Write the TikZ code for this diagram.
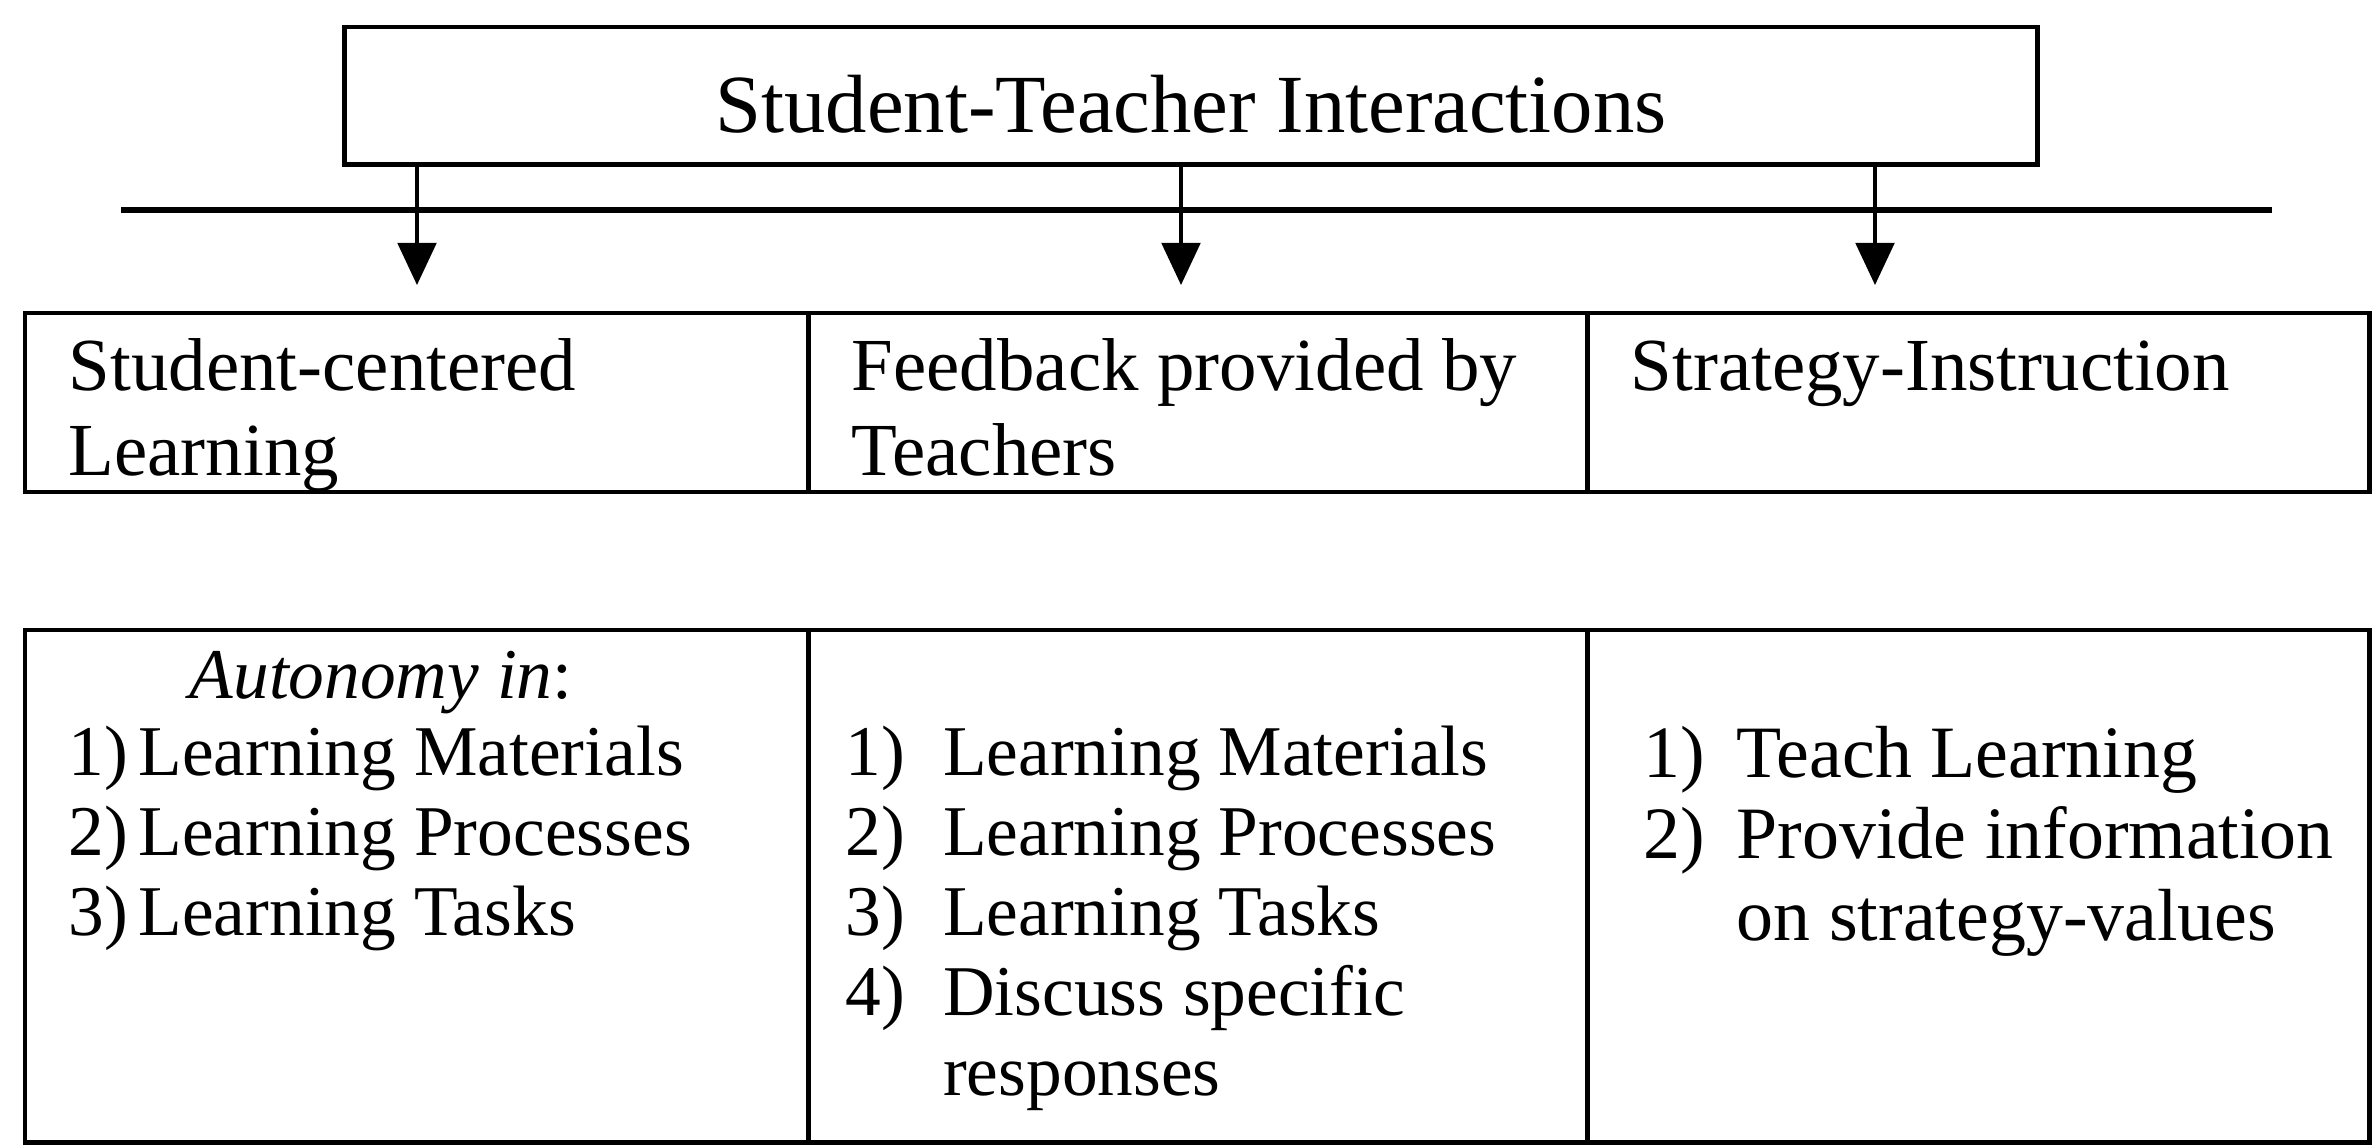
\documentclass[tikz,border=0pt]{standalone}
\usepackage{fontspec}
\setmainfont{Liberation Serif}
\usetikzlibrary{arrows.meta}

\begin{document}
\begin{tikzpicture}[x=0.01cm,y=-0.01cm,
  titlebox/.style={draw,line width=1.4pt,minimum width=16.92cm,minimum height=1.37cm,inner sep=0pt,
    text height=21.3pt,text depth=0pt,font=\fontsize{23.5}{28}\selectfont},
  cell/.style={draw,line width=1.2pt,anchor=north west,inner sep=0pt},
  headtext/.style={anchor=base west,inner sep=0pt,font=\fontsize{21.3}{24.2}\selectfont},
  listtext/.style={anchor=base west,inner sep=0pt,font=\fontsize{20.3}{22.8}\selectfont},
  arr/.style={-{Triangle[length=12pt,width=11pt]},line width=1pt}]
\useasboundingbox (0,0) rectangle (2375,1147);
\node[titlebox] (title) at (1191,95.5) {Student-Teacher Interactions};
\coordinate (rulel) at (121,210);
\coordinate (ruler) at (2272,210);
\draw[line width=1.8pt] (rulel) -- (ruler);
  \foreach \nm/\xx/\ww in {sl/23/7.83,fb/806/7.79,si/1585/7.82}
  {  \node[cell,minimum width=\ww cm,minimum height=1.79cm] (\nm head) at (\xx,311) {};
     \node[cell,minimum width=\ww cm,minimum height=5.12cm] (\nm body) at (\xx,628) {};}
  \foreach \tip/\xx in {sltip/417,fbtip/1181,sitip/1875}
  {  \coordinate (\tip) at (\xx,285);
     \draw[arr] (title.south -| \tip) -- (\tip);}
\node[headtext] (sltitle) at (68,390) {\begin{tabular}[t]{@{}l@{}}Student-centered\\Learning\end{tabular}};
\node[headtext] (fbtitle) at (851,390) {\begin{tabular}[t]{@{}l@{}}Feedback provided by\\Teachers\end{tabular}};
\node[headtext] (sititle) at (1630,390) {Strategy-Instruction};
\node[listtext] (autonomy) at (189,698) {\textit{Autonomy in}:};
\node[listtext] (slitems) at (68,775) {\begin{tabular}[t]{@{}l@{\hspace{3pt}}l@{}}
  1)&Learning Materials\\2)&Learning Processes\\3)&Learning Tasks\end{tabular}};
\node[listtext] (fbitems) at (845,775) {\begin{tabular}[t]{@{}l@{\hspace{10.8pt}}l@{}}
  1)&Learning Materials\\2)&Learning Processes\\3)&Learning Tasks\\4)&Discuss specific\\&responses\end{tabular}};
\node[listtext,font=\fontsize{21}{23.3}\selectfont] (siitems) at (1643,777) {\begin{tabular}[t]{@{}l@{\hspace{9pt}}l@{}}
  1)&Teach Learning\\2)&Provide information\\&on strategy-values\end{tabular}};
\end{tikzpicture}
\end{document}
